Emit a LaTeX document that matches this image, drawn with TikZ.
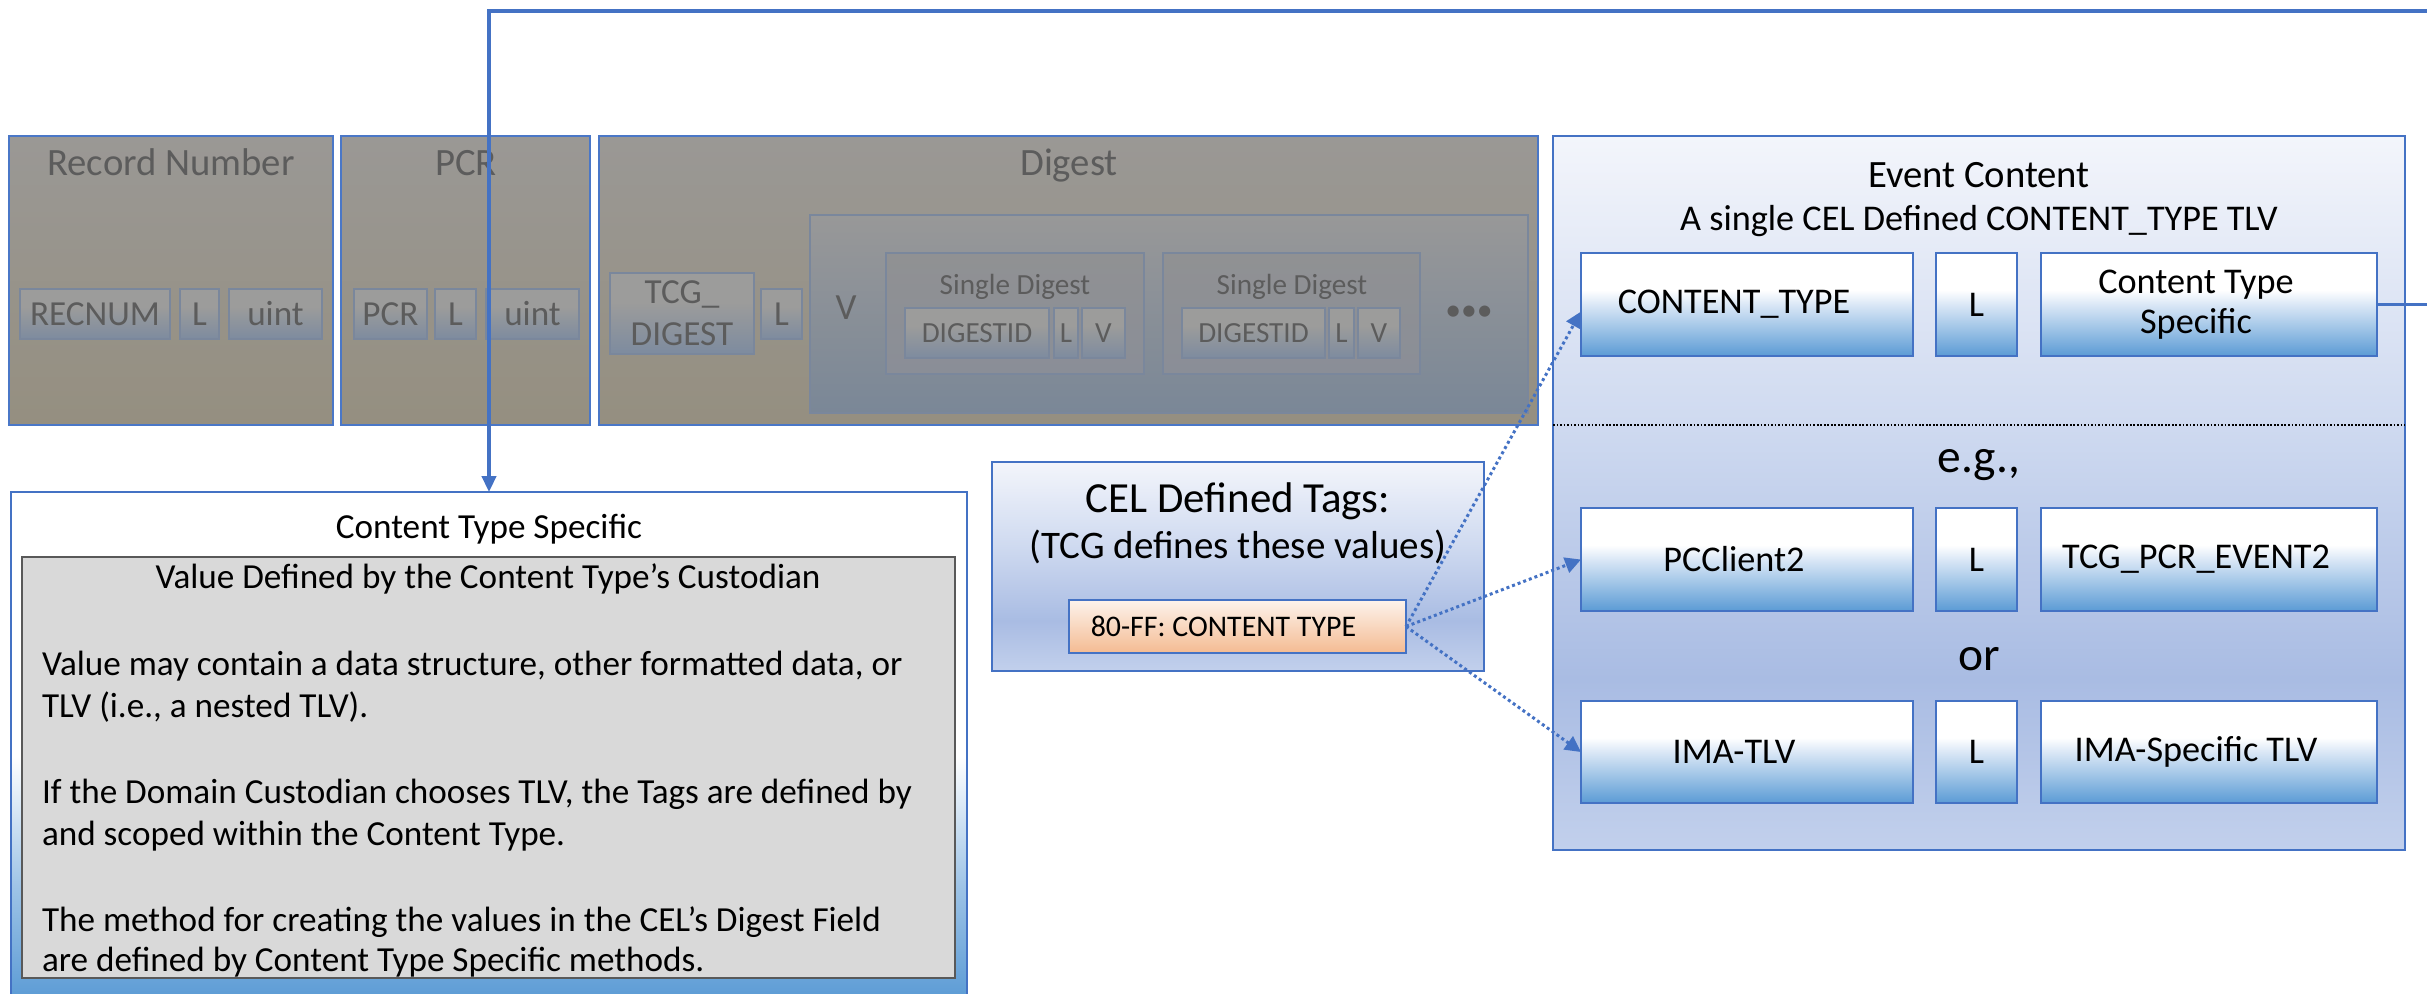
\documentclass[tikz,border=0pt]{standalone}
\usepackage{fontspec}
\setmainfont{Carlito}
\usetikzlibrary{fit,arrows.meta}
\definecolor{bdr}{HTML}{4472C4}
\definecolor{gbdr}{HTML}{4A77C7}
\definecolor{bluebot}{HTML}{5B9BD5}
\definecolor{bluemid}{HTML}{9DC3E6}
\definecolor{bluelt}{HTML}{DAE7F6}
\definecolor{evtop}{HTML}{F3F5FB}
\definecolor{evmid}{HTML}{CFDAF0}
\definecolor{evlow}{HTML}{A9BCE3}
\definecolor{evbot}{HTML}{C2D0EC}
\definecolor{pchtop}{HTML}{FDF3EC}
\definecolor{pchbot}{HTML}{F4BB92}
\definecolor{grtop}{HTML}{9A9895}
\definecolor{grbot}{HTML}{958F80}
\definecolor{gbtop}{HTML}{9C9C9B}
\definecolor{gbbot}{HTML}{7D8B9F}
\definecolor{gbbdr}{HTML}{7A879C}
\definecolor{gtext}{HTML}{5C5C5C}
\definecolor{sdtop}{HTML}{909193}
\definecolor{sdbot}{HTML}{8A8E97}
\definecolor{vtop}{HTML}{989898}
\definecolor{vbot}{HTML}{7A8797}
\definecolor{panel}{HTML}{D9D9D9}
\definecolor{panelbdr}{HTML}{595959}
\pgfdeclareverticalshading{blueBox}{100bp}{color(0bp)=(bluebot); color(25bp)=(bluebot); color(38bp)=(bluemid); color(50bp)=(bluelt); color(57bp)=(white); color(100bp)=(white)}
\pgfdeclareverticalshading{grayBlueBox}{100bp}{color(0bp)=(gbbot); color(25bp)=(gbbot); color(57bp)=(gbtop); color(100bp)=(gbtop)}
\pgfdeclareverticalshading{evShade}{100bp}{color(0bp)=(evbot); color(25bp)=(evbot); color(37bp)=(evlow); color(55bp)=(evmid); color(75bp)=(evtop); color(100bp)=(evtop)}
\pgfdeclareverticalshading{bigShade}{100bp}{color(0bp)=(bluebot); color(25bp)=(bluebot); color(36bp)=(bluemid); color(49bp)=(white); color(100bp)=(white)}
\newcommand\fsz[2]{\fontsize{#1}{#2}\selectfont}
% box style, text style, name, x1, y1, x2, y2, text
\newcommand\tbox[8]{\node[#1, fit={(#4,#5) (#6,#7)}] (#3) {};
  \node[#2] (#3t) at (#3.center) {#8};}
\begin{document}
\begin{tikzpicture}[x=0.01cm,y=-0.01cm,
  bx/.style={rectangle, inner sep=0pt, outer sep=0pt},
  gouter/.style={bx, draw=gbdr, line width=0.8pt, top color=grtop, bottom color=grbot},
  gsmall/.style={bx, draw=gbbdr, line width=0.6pt, shade, shading=grayBlueBox},
  gsmallt/.style={bx, text=gtext, font=\fsz{10}{11.9}, align=center},
  gtinyt/.style={bx, text=gtext, font=\fsz{8.3}{10}},
  gtitle/.style={bx, text=gtext, font=\fsz{11}{13}, anchor=base},
  gsub/.style={bx, text=gtext, font=\fsz{8.3}{10}, anchor=base},
  sdbox/.style={bx, draw=gbbdr, line width=0.6pt, top color=sdtop, bottom color=sdbot},
  vbox/.style={bx, draw=gbbdr, line width=0.6pt, top color=vtop, bottom color=vbot},
  evbox/.style={bx, draw=bdr, line width=0.6pt, shade, shading=evShade},
  bluebx/.style={bx, draw=bdr, line width=0.6pt, shade, shading=blueBox},
  bluet/.style={bx, font=\fsz{10.3}{11.4}, align=center},
  bluetl/.style={bluet, xshift=-3.7pt},
  txt/.style={bx, anchor=base},
  conn/.style={draw=bdr, line width=1pt, -{Triangle[width=4pt,length=4.5pt]}},
  dotarr/.style={draw=bdr, line width=0.85pt, dash pattern=on 0.85pt off 0.85pt, -{Triangle[width=4.5pt,length=4.5pt]}},
  sepline/.style={draw=black, line width=0.5pt, dash pattern=on 0.5pt off 0.5pt}
]
\useasboundingbox (0,0) rectangle (2427,993);

% ---- grayed record / PCR / digest region
\node[gouter, fit={(9,136) (333,425)}] (rec) {};
\node[gouter, fit={(341,136) (590,425)}] (pcr) {};
\node[gouter, fit={(599,136) (1538,425)}] (dig) {};
\node[gtitle] (rect) at (171,175) {Record Number};
\node[gtitle] (pcrt) at (466,175) {PCR};
\node[gtitle] (digt) at (1069,175) {Digest};

\tbox{gsmall}{gsmallt}{recnum}{20}{289}{170}{339}{RECNUM}
\tbox{gsmall}{gsmallt}{recl}{180}{289}{219}{339}{L}
\tbox{gsmall}{gsmallt}{recv}{229}{289}{322}{339}{uint}
\tbox{gsmall}{gsmallt}{pcrn}{354}{289}{427}{339}{PCR}
\tbox{gsmall}{gsmallt}{pcrl}{435}{289}{476}{339}{L}
\tbox{gsmall}{gsmallt}{pcrv}{486}{289}{579}{339}{uint}

\tbox{gsmall}{gsmallt}{tcgd}{610}{273}{754}{354}{TCG\_\\DIGEST}
\tbox{gsmall}{gsmallt}{digl}{761}{289}{802}{339}{L}
\node[vbox, fit={(810,215) (1528,413)}] (digv) {};
\node[bx, text=gtext, font=\fsz{10.5}{12}] (vlab) at (846,308) {V};

\node[sdbox, fit={(886,253) (1144,374)}] (sd1) {};
\node[sdbox, fit={(1163,253) (1420,374)}] (sd2) {};
\node[gsub] (sd1t) at (1015,294) {Single Digest};
\node[gsub] (sd2t) at (1292,294) {Single Digest};
\tbox{gsmall}{gtinyt}{d1id}{905}{308}{1049}{358}{DIGESTID}
\tbox{gsmall}{gtinyt}{d1l}{1054}{308}{1078}{358}{L}
\tbox{gsmall}{gtinyt}{d1v}{1082}{308}{1125}{358}{V}
\tbox{gsmall}{gtinyt}{d2id}{1182}{308}{1325}{358}{DIGESTID}
\tbox{gsmall}{gtinyt}{d2l}{1329}{308}{1354}{358}{L}
\tbox{gsmall}{gtinyt}{d2v}{1358}{308}{1400}{358}{V}
\node[bx, text=gtext, font=\fsz{9}{10}] (dots) at (1469,313) {\textbullet\textbullet\textbullet};

% ---- Event content
\node[evbox, fit={(1553,136) (2405,850)}] (ev) {};
\node[txt, font=\fsz{11}{13}] (evt) at (1979,187) {Event Content};
\node[txt, font=\fsz{10.3}{12}] (evs) at (1979,230) {A single CEL Defined CONTENT\_TYPE TLV};
\tbox{bluebx}{bluetl}{ct}{1581}{253}{1913}{356}{CONTENT\_TYPE}
\tbox{bluebx}{bluet}{ctl}{1936}{253}{2017}{356}{L}
\tbox{bluebx}{bluetl}{cts}{2041}{253}{2377}{356}{Content Type\\Specific}
\draw[sepline] (ev.west |- 0,425) -- (ev.east |- 0,425);
\node[txt, font=\fsz{13.5}{15}] (eg) at (1979,472) {e.g.,};
\tbox{bluebx}{bluetl}{pc}{1581}{508}{1913}{611}{PCClient2}
\tbox{bluebx}{bluet}{pcl}{1936}{508}{2017}{611}{L}
\tbox{bluebx}{bluetl}{tcg}{2041}{508}{2377}{611}{TCG\_PCR\_EVENT2}
\node[txt, font=\fsz{13.5}{15}] (or) at (1979,670) {or};
\tbox{bluebx}{bluetl}{ima}{1581}{701}{1913}{803}{IMA-TLV}
\tbox{bluebx}{bluet}{imal}{1936}{701}{2017}{803}{L}
\tbox{bluebx}{bluetl}{imas}{2041}{701}{2377}{803}{IMA-Specific TLV}

% ---- CEL defined tags
\node[evbox, fit={(992,462) (1484,671)}] (cel) {};
\node[txt, font=\fsz{12.2}{14}] (celt) at (1238,512) {CEL Defined Tags:};
\node[txt, font=\fsz{11.1}{13}] (cels) at (1238,558) {(TCG defines these values)};
\node[bx, draw=bdr, line width=0.6pt, top color=pchtop, bottom color=pchbot, fit={(1069,600) (1406,653)}] (tag) {};
\node[bx, font=\fsz{8.5}{10}] (tagt) at ([xshift=-4pt]tag.center) {80-FF: CONTENT TYPE};

% ---- Content type specific
\node[bx, draw=bdr, line width=0.6pt, shade, shading=bigShade, fit={(11,492) (967,1000)}] (big) {};
\node[txt, font=\fsz{10}{12}] (bigt) at (489,538) {Content Type Specific};
\node[bx, fill=panel, draw=panelbdr, line width=0.8pt, fit={(22,557) (955,978)}] (pan) {};
\node[txt, font=\fsz{10}{12}] (pant) at (488,588) {Value Defined by the Content Type’s Custodian};
\begin{scope}[every node/.style={bx, anchor=base west, font=\fsz{10}{12}}]
\node (l1) at (42,675) {Value may contain a data structure, other formatted data, or};
\node (l2) at (42,717) {TLV (i.e., a nested TLV).};
\node (l3) at (42,803) {If the Domain Custodian chooses TLV, the Tags are defined by};
\node (l4) at (42,845) {and scoped within the Content Type.};
\node (l5) at (42,931) {The method for creating the values in the CEL’s Digest Field};
\node (l6) at (42,971) {are defined by Content Type Specific methods.};
\end{scope}

% ---- connectors
\coordinate (rt) at (2470,11);
\draw[conn] (cts.east) -| (rt) -| (big.north);
\draw[dotarr] (tag.east) -- ([yshift=-2pt]ct.west);
\draw[dotarr] (tag.east) -- (pc.west);
\draw[dotarr] (tag.east) -- (ima.west);
\end{tikzpicture}
\end{document}
